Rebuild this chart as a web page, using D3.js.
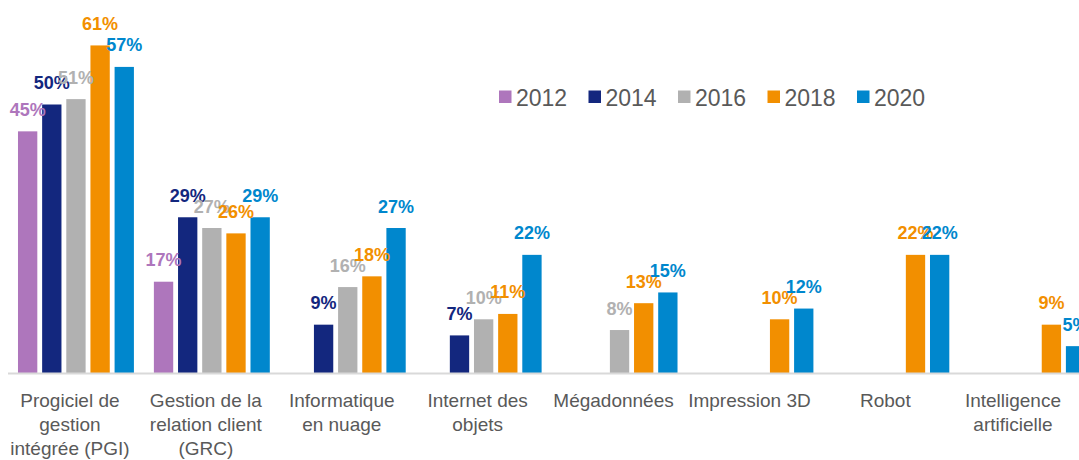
<!DOCTYPE html>
<html>
<head>
<meta charset="utf-8">
<script src="https://cdn.jsdelivr.net/npm/d3@7"></script>
<style>
  body { margin: 0; background: #fff; }
  svg { display: block; font-family: "Liberation Sans", Arial, sans-serif; }
</style>
</head>
<body>
<div id="chart"></div>
<script>
const categories = [
  "Progiciel de\ngestion\nintégrée (PGI)",
  "Gestion de la\nrelation client\n(GRC)",
  "Informatique\nen nuage",
  "Internet des\nobjets",
  "Mégadonnées",
  "Impression 3D",
  "Robot",
  "Intelligence\nartificielle",
]
const years = ["2012", "2014", "2016", "2018", "2020"]
const colors = ["#ae76bc", "#13277e", "#b1b1b1", "#f28f00", "#0087cd"]
const values2012 = [45, 17, null, null, null, null, null, null]
const values2014 = [50, 29, 9, 7, null, null, null, null]
const values2016 = [51, 27, 16, 10, 8, null, null, null]
const values2018 = [61, 26, 18, 11, 13, 10, 22, 9]
const values2020 = [57, 29, 27, 22, 15, 12, 22, 5]
const seriesValues = [values2012, values2014, values2016, values2018, values2020]

const width = 1079
const height = 460
const baseline = 373

const svg = d3
  .select("#chart")
  .append("svg")
  .attr("width", width)
  .attr("height", height)

svg
  .append("rect")
  .attr("width", width)
  .attr("height", height)
  .attr("fill", "#fff")

const x0 = d3
  .scaleBand()
  .domain(categories)
  .range([8, 8 + 8 * 135.9])
  .paddingInner(0.147)
  .paddingOuter(0.0735)

const x1 = d3
  .scaleBand()
  .domain(years)
  .range([0, x0.bandwidth()])
  .paddingInner(0.2)

const y = d3
  .scaleLinear()
  .domain([0, 70])
  .range([baseline, baseline - 5.37 * 70])

const color = d3.scaleOrdinal().domain(years).range(colors)

// flatten to one record per bar
const bars = []
years.forEach((yr, s) => {
  categories.forEach((cat, c) => {
    const v = seriesValues[s][c]
    if (v != null) bars.push({ year: yr, cat, value: v })
  })
})

svg
  .append("g")
  .attr("class", "bars")
  .selectAll("rect")
  .data(bars)
  .enter()
  .append("rect")
  .attr("x", d => x0(d.cat) + x1(d.year))
  .attr("y", d => y(d.value))
  .attr("width", x1.bandwidth())
  .attr("height", d => y(0) - y(d.value))
  .attr("fill", d => color(d.year))

// baseline
svg
  .append("line")
  .attr("x1", x0.range()[0])
  .attr("x2", width)
  .attr("y1", y(0) + 0.5)
  .attr("y2", y(0) + 0.5)
  .attr("stroke", "#d9d9d9")
  .attr("stroke-width", 2)

svg
  .append("g")
  .attr("class", "labels")
  .selectAll("text")
  .data(bars)
  .enter()
  .append("text")
  .attr("x", d => x0(d.cat) + x1(d.year) + x1.bandwidth() / 2)
  .attr("y", d => y(d.value) - 15.5)
  .attr("text-anchor", "middle")
  .attr("font-size", "18px")
  .attr("font-weight", "bold")
  .attr("fill", d => color(d.year))
  .text(d => `${d.value}%`)

// category labels
const catLabels = svg
  .append("g")
  .attr("class", "x axis")
  .selectAll("text")
  .data(categories)
  .enter()
  .append("text")
  .attr("text-anchor", "middle")
  .attr("font-size", "19px")
  .attr("fill", "#595959")
  .attr("x", d => x0(d) + x0.bandwidth() / 2 - 6)
  .attr("y", 407)

catLabels
  .selectAll("tspan")
  .data(d => d.split("\n"))
  .enter()
  .append("tspan")
  .attr("x", function () {
    return this.parentNode.getAttribute("x")
  })
  .attr("dy", (t, i) => (i === 0 ? 0 : 24))
  .text(t => t)

// keep labels inside the chart on the right
catLabels.each(function () {
  const box = this.getBBox()
  const over = box.x + box.width - 1061
  if (over > 0) {
    const nx = +this.getAttribute("x") - over
    d3.select(this).attr("x", nx).selectAll("tspan").attr("x", nx)
  }
})

// legend
const legend = svg
  .append("g")
  .attr("class", "legend")
  .attr("transform", "translate(499,97)")
  .selectAll("g")
  .data(years)
  .enter()
  .append("g")
  .attr("transform", (d, i) => `translate(${i * 89.5},0)`)

legend
  .append("rect")
  .attr("x", 0)
  .attr("y", -6.5)
  .attr("width", 12.5)
  .attr("height", 12.5)
  .attr("fill", d => color(d))

legend
  .append("text")
  .attr("x", 17)
  .attr("y", 8.5)
  .attr("font-size", "23px")
  .attr("fill", "#595959")
  .text(d => d)
</script>
</body>
</html>
